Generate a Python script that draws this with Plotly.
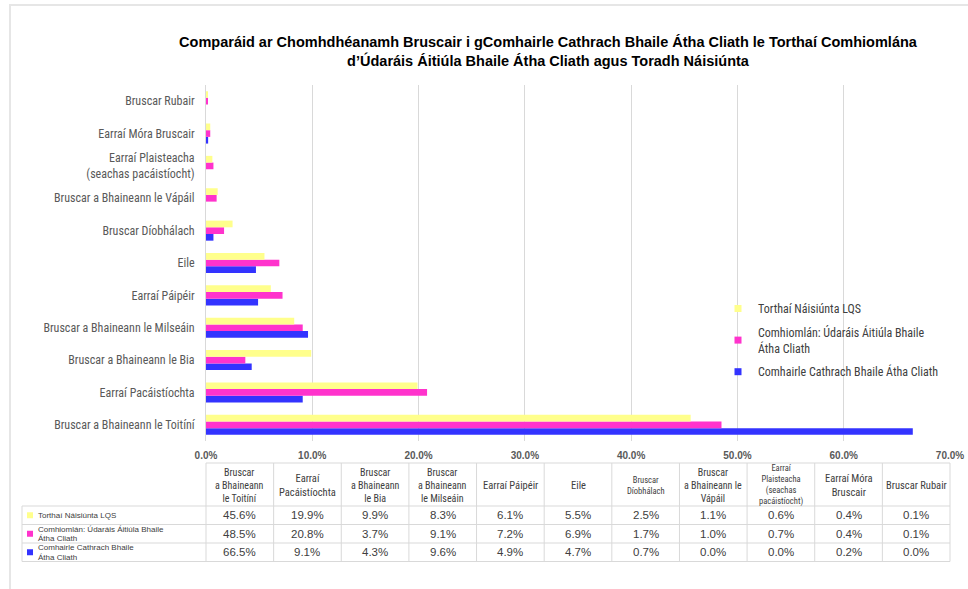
import plotly.graph_objects as go

# ---------------- data ----------------
CATEGORIES = [
    "Bruscar a Bhaineann le Toitíní",
    "Earraí Pacáistíochta",
    "Bruscar a Bhaineann le Bia",
    "Bruscar a Bhaineann le Milseáin",
    "Earraí Páipéir",
    "Eile",
    "Bruscar Díobhálach",
    "Bruscar a Bhaineann le Vápáil",
    "Earraí Plaisteacha<br>(seachas pacáistíocht)",
    "Earraí Móra Bruscair",
    "Bruscar Rubair",
]
TABLE_HEADERS = [
    "Bruscar<br>a Bhaineann<br>le Toitíní",
    "Earraí<br>Pacáistíochta",
    "Bruscar<br>a Bhaineann<br>le Bia",
    "Bruscar<br>a Bhaineann<br>le Milseáin",
    "Earraí Páipéir",
    "Eile",
    "Bruscar<br>Díobhálach",
    "Bruscar<br>a Bhaineann le<br>Vápáil",
    "Earraí<br>Plaisteacha<br>(seachas<br>pacáistíocht)",
    "Earraí Móra<br>Bruscair",
    "Bruscar Rubair",
]
SERIES_NAMES = [
    "Torthaí Náisiúnta LQS",
    "Comhiomlán: Údaráis Áitiúla Bhaile Átha Cliath",
    "Comhairle Cathrach Bhaile Átha Cliath",
]
LEGEND_LABELS = [
    "Torthaí Náisiúnta LQS",
    "Comhiomlán: Údaráis Áitiúla Bhaile<br>Átha Cliath",
    "Comhairle Cathrach Bhaile Átha Cliath",
]
TABLE_ROW_LABELS = [
    "Torthaí Náisiúnta LQS",
    "Comhiomlán: Údaráis Áitiúla Bhaile<br>Átha Cliath",
    "Comhairle Cathrach Bhaile<br>Átha Cliath",
]
LQS = [45.6, 19.9, 9.9, 8.3, 6.1, 5.5, 2.5, 1.1, 0.6, 0.4, 0.1]
DUBLIN_LA = [48.5, 20.8, 3.7, 9.1, 7.2, 6.9, 1.7, 1.0, 0.7, 0.4, 0.1]
DCC = [66.5, 9.1, 4.3, 9.6, 4.9, 4.7, 0.7, 0.0, 0.0, 0.2, 0.0]
X_TICKS = [0, 10, 20, 30, 40, 50, 60, 70]
TITLE = ("Comparáid ar Chomhdhéanamh Bruscair i gComhairle Cathrach Bhaile Átha Cliath le Torthaí Comhiomlána"
         "<br>d’Údaráis Áitiúla Bhaile Átha Cliath agus Toradh Náisiúnta")

# ---------------- style ----------------
W, H = 968, 589
COLORS = ["#ffff8c", "#ff33cc", "#3333ff"]
NARROW = "Liberation Sans Narrow, Arial Narrow, Roboto Condensed, Liberation Sans, sans-serif"
SANS = "Liberation Sans, Arial, sans-serif"
GRID = "#d9d9d9"
TXT = "#404040"

PLOT_L, PLOT_R, PLOT_T, PLOT_B = 206, 950, 85, 441
PW, PH = PLOT_R - PLOT_L, PLOT_B - PLOT_T


def px(x):
    """figure pixel x -> paper coordinate"""
    return (x - PLOT_L) / PW


def py(y):
    """figure pixel y (from top) -> paper coordinate"""
    return (PLOT_B - y) / PH


series = [LQS, DUBLIN_LA, DCC]
fig = go.Figure()
# bars: plotly puts first trace at bottom of the group -> add in reverse
for name, vals, col in reversed(list(zip(SERIES_NAMES, series, COLORS))):
    fig.add_trace(go.Bar(
        y=CATEGORIES, x=vals, orientation="h", name=name,
        marker=dict(color=col, line=dict(width=0)), showlegend=False,
    ))
# legend entries with small square keys
for i, (lab, col) in enumerate(zip(LEGEND_LABELS, COLORS)):
    fig.add_trace(go.Scatter(
        x=[None], y=[None], mode="markers", name=lab, legendgroup=f"g{i}",
        marker=dict(symbol="square", size=7, color=col),
    ))

shapes = []
annotations = []

# outer frame lines
shapes.append(dict(type="line", xref="paper", yref="paper", x0=px(9), x1=px(W), y0=py(5), y1=py(5),
                   line=dict(color="#e6e6e6", width=2)))
shapes.append(dict(type="line", xref="paper", yref="paper", x0=px(10), x1=px(10), y0=py(5), y1=py(H),
                   line=dict(color="#e6e6e6", width=2)))

# ---------------- data table ----------------
TBL_L = 22
HDR_T, HDR_B = 463, 506
ROW_H = 18.5
ncol = len(TABLE_HEADERS)
colw = (PLOT_R - PLOT_L) / ncol
col_edges = [PLOT_L + i * colw for i in range(ncol + 1)]
row_edges = [HDR_B + i * ROW_H for i in range(len(series) + 1)]
line_style = dict(color="#d9d9d9", width=1)

shapes.append(dict(type="line", xref="paper", yref="paper", x0=px(PLOT_L), x1=px(PLOT_R),
                   y0=py(HDR_T), y1=py(HDR_T), line=line_style))
for ry in row_edges:
    shapes.append(dict(type="line", xref="paper", yref="paper", x0=px(TBL_L), x1=px(PLOT_R),
                       y0=py(ry), y1=py(ry), line=line_style))
for cx in col_edges:
    shapes.append(dict(type="line", xref="paper", yref="paper", x0=px(cx), x1=px(cx),
                       y0=py(HDR_T), y1=py(row_edges[-1]), line=line_style))
shapes.append(dict(type="line", xref="paper", yref="paper", x0=px(TBL_L), x1=px(TBL_L),
                   y0=py(HDR_B), y1=py(row_edges[-1]), line=line_style))


def add_lines(text, x, cy, spacing, size, xanchor, family=NARROW):
    lines = text.split("<br>")
    n = len(lines)
    for k, ln in enumerate(lines):
        annotations.append(dict(xref="paper", yref="paper", x=px(x), y=py(cy + (k - (n - 1) / 2) * spacing),
                                text=ln, showarrow=False, xanchor=xanchor, yanchor="middle",
                                borderpad=0, font=dict(family=family, size=size, color=TXT)))


hdr_c = (HDR_T + HDR_B) / 2 + 0.5
for i, h in enumerate(TABLE_HEADERS):
    n = len(h.split("<br>"))
    if "Díobhálach" in h:
        size = 8.5
    elif n >= 4:
        size = 8.5
    elif n == 3:
        size = 10
    else:
        size = 10.5
    annotations.append(dict(xref="paper", yref="paper", x=px((col_edges[i] + col_edges[i + 1]) / 2),
                            y=py(hdr_c), text=h, showarrow=False, xanchor="center", yanchor="middle",
                            align="center", borderpad=0, font=dict(family=NARROW, size=size, color=TXT)))

for r, (lab, vals, col) in enumerate(zip(TABLE_ROW_LABELS, series, COLORS)):
    cy = (row_edges[r] + row_edges[r + 1]) / 2
    shapes.append(dict(type="rect", xref="paper", yref="paper", x0=px(27), x1=px(33),
                       y0=py(cy - 3), y1=py(cy + 3), fillcolor=col, line=dict(width=0)))
    add_lines(lab, 37, cy, 9.5, 8, "left", family=SANS)
    for i, v in enumerate(vals):
        annotations.append(dict(xref="paper", yref="paper", x=px((col_edges[i] + col_edges[i + 1]) / 2),
                                y=py(cy), text=f"{v:.1f}%", showarrow=False,
                                xanchor="center", yanchor="middle",
                                font=dict(family=SANS, size=11.5, color=TXT)))

fig.update_layout(
    width=W, height=H,
    paper_bgcolor="white", plot_bgcolor="white",
    margin=dict(l=PLOT_L, r=W - PLOT_R, t=PLOT_T, b=H - PLOT_B, pad=0, autoexpand=False),
    barmode="group", bargap=0.38, bargroupgap=0,
    title=dict(text=TITLE, x=548 / W, xanchor="center", y=1 - 47 / H, yanchor="middle",
               font=dict(family=SANS, size=14.5, color="black", weight="bold")),
    xaxis=dict(range=[0, 70], tickvals=X_TICKS, ticktext=[f"{t:.1f}%" for t in X_TICKS],
               showgrid=True, gridcolor=GRID, gridwidth=1, zeroline=False, showline=False,
               ticks="outside", ticklen=5, tickcolor="rgba(0,0,0,0)",
               tickfont=dict(family=SANS, size=10, color="#595959", weight="bold")),
    yaxis=dict(type="category", categoryorder="array", categoryarray=CATEGORIES,
               range=[-0.5, len(CATEGORIES) - 0.5], showgrid=False, zeroline=False, showline=True,
               linecolor=GRID, linewidth=1,
               ticks="outside", ticklen=8, tickcolor="rgba(0,0,0,0)",
               tickfont=dict(family=NARROW, size=12, color="#595959")),
    legend=dict(x=px(718), y=py(294), xanchor="left", yanchor="top", bgcolor="rgba(0,0,0,0)",
                traceorder="grouped", tracegroupgap=5, itemsizing="trace",
                font=dict(family=NARROW, size=12, color=TXT)),
    shapes=shapes, annotations=annotations,
    showlegend=True,
)

fig.write_html("out.html", config={"displayModeBar": False},
               post_script="document.body.style.margin='0px';")
